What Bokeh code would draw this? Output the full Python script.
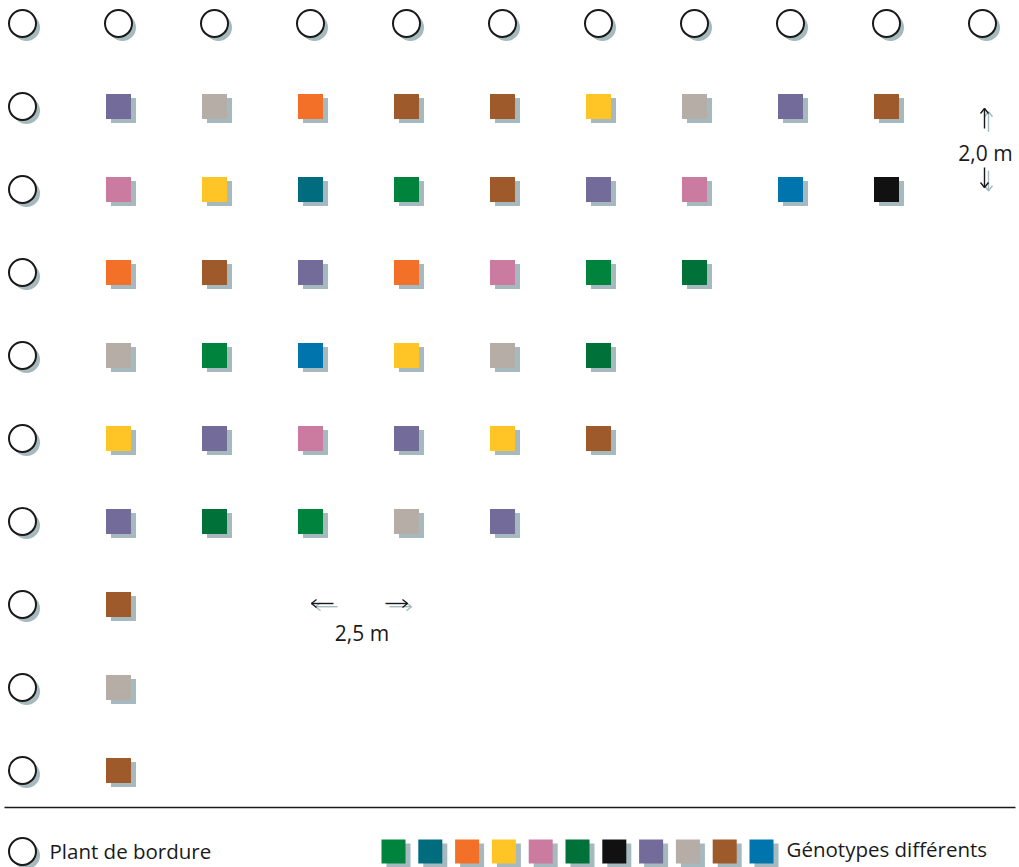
from bokeh.plotting import figure
from bokeh.models import Range1d, ColumnDataSource
from bokeh.embed import file_html
from bokeh.resources import INLINE
from bokeh.core.properties import value

# ---- data ----
genotype_colors = ["#00843D", "#006C7E", "#F37029", "#FFC425", "#CB7AA0", "#007139",
                   "#111111", "#736B9A", "#B6ADA7", "#9F5A2B", "#0075AD"]

# genotype index per planted cell, rows 1..9 (columns start at 1)
row1 = [7, 8, 2, 9, 9, 3, 8, 7, 9]
row2 = [4, 3, 1, 0, 9, 7, 4, 10, 6]
row3 = [2, 9, 7, 2, 4, 0, 5]
row4 = [8, 0, 10, 3, 8, 5]
row5 = [3, 7, 4, 7, 3, 9]
row6 = [7, 5, 0, 8, 7]
row7 = [9]
row8 = [8]
row9 = [9]
rows = [row1, row2, row3, row4, row5, row6, row7, row8, row9]

border_top_cols = list(range(11))      # border plants along the top row
border_left_rows = list(range(1, 10))  # border plants along the left column

spacing_row_label = "2,0 m"
spacing_col_label = "2,5 m"
legend_border_label = "Plant de bordure"
legend_geno_label = "Génotypes différents"

# ---- build sources ----
sx, sy, sc = [], [], []
for r, row in enumerate(rows, start=1):
    for c, g in enumerate(row, start=1):
        sx.append(c)
        sy.append(r)
        sc.append(genotype_colors[g])

bx = border_top_cols + [0] * len(border_left_rows)
by = [0] * len(border_top_cols) + border_left_rows

W, H = 1019, 867
PX_X = 96.0
PX_Y = 83.0
X0, Y0 = 22.0, 23.0
DX = 5 / PX_X
DY = 4 / PX_Y
SHADOW = "#A5B9BE"
INK = "#1a1a1a"
FONT = "Open Sans"

def cx(px):
    return (px - X0) / PX_X

def cy(py):
    return (py - Y0) / PX_Y

p = figure(width=W, height=H,
           x_range=Range1d(cx(0), cx(W)),
           y_range=Range1d(cy(H), cy(0)),
           output_backend="svg", toolbar_location=None, min_border=0,
           x_axis_location=None, y_axis_location=None)
p.grid.visible = False
p.outline_line_color = None
p.background_fill_color = "white"
p.border_fill_color = "white"

# genotype squares
src = ColumnDataSource(dict(x=sx, y=sy, c=sc,
                            xs=[v + DX for v in sx], ys=[v + DY for v in sy]))
p.scatter("xs", "ys", source=src, marker="square", size=25,
          fill_color=SHADOW, line_color=None)
p.scatter("x", "y", source=src, marker="square", size=25,
          fill_color="c", line_color=None)

# border plants
bsrc = ColumnDataSource(dict(x=bx, y=by,
                             xs=[v + 4 / PX_X for v in bx], ys=[v + 4 / PX_Y for v in by]))
p.scatter("xs", "ys", source=bsrc, marker="circle", size=27,
          fill_color=SHADOW, line_color=None)
p.scatter("x", "y", source=bsrc, marker="circle", size=27,
          fill_color="white", line_color=INK, line_width=2)

# spacing annotations
def label(x, y, t, size="21px", color=INK):
    p.text(x=[x], y=[y], text=[t], text_font=value(FONT), text_font_size=size,
           text_color=color, text_align="center", text_baseline="middle")

def arrow(tip, tail, head=5, spread=4):
    # open-headed arrow drawn as lines, given in pixel-like layout coords
    (tx, ty), (bx_, by_) = tip, tail
    if tx == bx_:
        s = 1 if by_ > ty else -1
        h1 = (tx - spread, ty + s * head)
        h2 = (tx + spread, ty + s * head)
    else:
        s = 1 if bx_ > tx else -1
        h1 = (tx + s * head, ty - spread)
        h2 = (tx + s * head, ty + spread)
    for off, col in ((4, SHADOW), (0, INK)):
        xs = [[cx(bx_ + off), cx(tx + off)], [cx(h1[0] + off), cx(tx + off), cx(h2[0] + off)]]
        ys = [[cy(by_ + off * 0.8), cy(ty + off * 0.8)],
              [cy(h1[1] + off * 0.8), cy(ty + off * 0.8), cy(h2[1] + off * 0.8)]]
        p.multi_line(xs=xs, ys=ys, line_color=col, line_width=1.4)

arrow((984, 108), (984, 128))
label(cx(985), cy(152), spacing_row_label)
arrow((984, 187), (984, 167))

arrow((311, 603), (333, 603))
arrow((407, 603), (385, 603))
label(cx(361.5), cy(632), spacing_col_label)

# separator line
p.line(x=[cx(4), cx(1015)], y=[cy(807)] * 2, line_color=INK, line_width=1.5)

# legend
ly = cy(851)
p.scatter(x=[cx(22 + 4)], y=[cy(851 + 4)], marker="circle", size=27,
          fill_color=SHADOW, line_color=None)
p.scatter(x=[cx(22)], y=[ly], marker="circle", size=27,
          fill_color="white", line_color=INK, line_width=2)
p.text(x=[cx(49)], y=[cy(850)], text=[legend_border_label], text_font=value(FONT),
       text_font_size="20.5px", text_color=INK, text_align="left", text_baseline="middle")

lx = [cx(393 + 36.8 * k) for k in range(len(genotype_colors))]
lsrc = ColumnDataSource(dict(x=lx, y=[ly] * len(lx), c=genotype_colors,
                             xs=[v + DX for v in lx], ys=[ly + DY] * len(lx)))
p.scatter("xs", "ys", source=lsrc, marker="square", size=24,
          fill_color=SHADOW, line_color=None)
p.scatter("x", "y", source=lsrc, marker="square", size=24,
          fill_color="c", line_color=None)
p.text(x=[cx(786)], y=[cy(848)], text=[legend_geno_label], text_font=value(FONT),
       text_font_size="20.5px", text_color=INK, text_align="left", text_baseline="middle")

open("out.html", "w").write(file_html(p, INLINE))
